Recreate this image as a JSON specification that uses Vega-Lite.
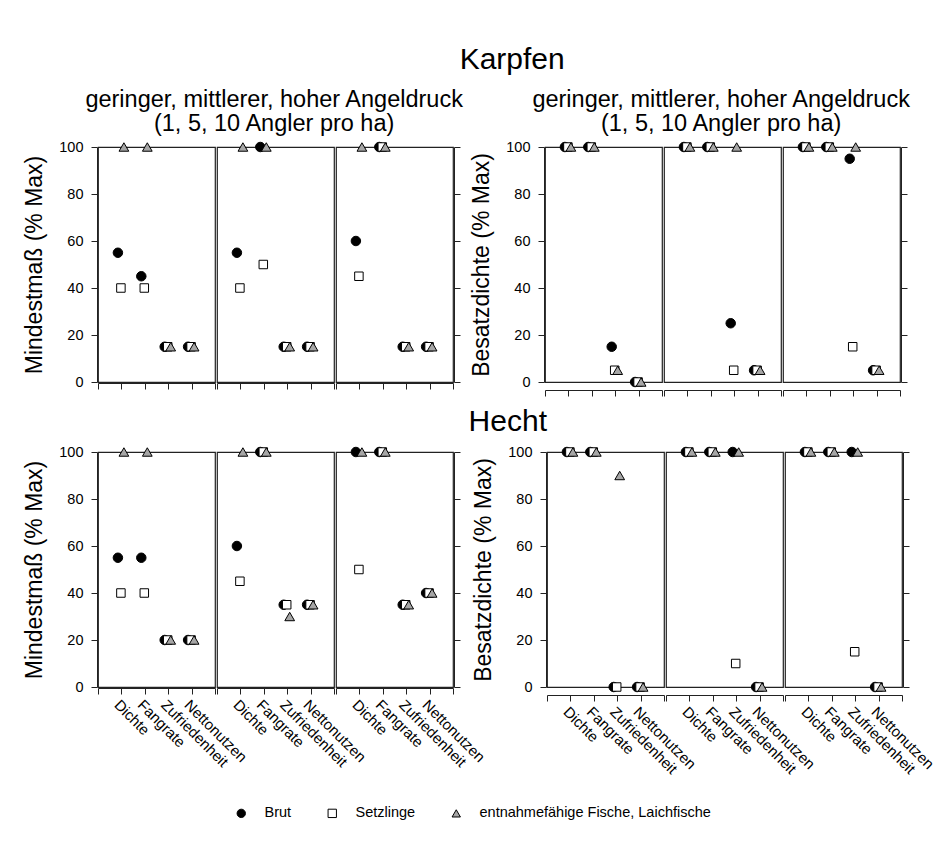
{
  "$schema": "https://vega.github.io/schema/vega-lite/v6.json",
  "background": "white",
  "padding": {"left": 23, "top": 44, "right": 5, "bottom": 5},
  "data": {"values": [
    {"fisch": "Karpfen", "groesse": "Mindestmaß", "druck": 1, "kriterium": "Dichte", "Brut": 55, "Setzlinge": 40, "entnahmefähige Fische, Laichfische": 100},
    {"fisch": "Karpfen", "groesse": "Mindestmaß", "druck": 1, "kriterium": "Fangrate", "Brut": 45, "Setzlinge": 40, "entnahmefähige Fische, Laichfische": 100},
    {"fisch": "Karpfen", "groesse": "Mindestmaß", "druck": 1, "kriterium": "Zufriedenheit", "Brut": 15, "Setzlinge": 15, "entnahmefähige Fische, Laichfische": 15},
    {"fisch": "Karpfen", "groesse": "Mindestmaß", "druck": 1, "kriterium": "Nettonutzen", "Brut": 15, "Setzlinge": 15, "entnahmefähige Fische, Laichfische": 15},
    {"fisch": "Karpfen", "groesse": "Mindestmaß", "druck": 5, "kriterium": "Dichte", "Brut": 55, "Setzlinge": 40, "entnahmefähige Fische, Laichfische": 100},
    {"fisch": "Karpfen", "groesse": "Mindestmaß", "druck": 5, "kriterium": "Fangrate", "Brut": 100, "Setzlinge": 50, "entnahmefähige Fische, Laichfische": 100},
    {"fisch": "Karpfen", "groesse": "Mindestmaß", "druck": 5, "kriterium": "Zufriedenheit", "Brut": 15, "Setzlinge": 15, "entnahmefähige Fische, Laichfische": 15},
    {"fisch": "Karpfen", "groesse": "Mindestmaß", "druck": 5, "kriterium": "Nettonutzen", "Brut": 15, "Setzlinge": 15, "entnahmefähige Fische, Laichfische": 15},
    {"fisch": "Karpfen", "groesse": "Mindestmaß", "druck": 10, "kriterium": "Dichte", "Brut": 60, "Setzlinge": 45, "entnahmefähige Fische, Laichfische": 100},
    {"fisch": "Karpfen", "groesse": "Mindestmaß", "druck": 10, "kriterium": "Fangrate", "Brut": 100, "Setzlinge": 100, "entnahmefähige Fische, Laichfische": 100},
    {"fisch": "Karpfen", "groesse": "Mindestmaß", "druck": 10, "kriterium": "Zufriedenheit", "Brut": 15, "Setzlinge": 15, "entnahmefähige Fische, Laichfische": 15},
    {"fisch": "Karpfen", "groesse": "Mindestmaß", "druck": 10, "kriterium": "Nettonutzen", "Brut": 15, "Setzlinge": 15, "entnahmefähige Fische, Laichfische": 15},
    {"fisch": "Karpfen", "groesse": "Besatzdichte", "druck": 1, "kriterium": "Dichte", "Brut": 100, "Setzlinge": 100, "entnahmefähige Fische, Laichfische": 100},
    {"fisch": "Karpfen", "groesse": "Besatzdichte", "druck": 1, "kriterium": "Fangrate", "Brut": 100, "Setzlinge": 100, "entnahmefähige Fische, Laichfische": 100},
    {"fisch": "Karpfen", "groesse": "Besatzdichte", "druck": 1, "kriterium": "Zufriedenheit", "Brut": 15, "Setzlinge": 5, "entnahmefähige Fische, Laichfische": 5},
    {"fisch": "Karpfen", "groesse": "Besatzdichte", "druck": 1, "kriterium": "Nettonutzen", "Brut": 0, "Setzlinge": 0, "entnahmefähige Fische, Laichfische": 0},
    {"fisch": "Karpfen", "groesse": "Besatzdichte", "druck": 5, "kriterium": "Dichte", "Brut": 100, "Setzlinge": 100, "entnahmefähige Fische, Laichfische": 100},
    {"fisch": "Karpfen", "groesse": "Besatzdichte", "druck": 5, "kriterium": "Fangrate", "Brut": 100, "Setzlinge": 100, "entnahmefähige Fische, Laichfische": 100},
    {"fisch": "Karpfen", "groesse": "Besatzdichte", "druck": 5, "kriterium": "Zufriedenheit", "Brut": 25, "Setzlinge": 5, "entnahmefähige Fische, Laichfische": 100},
    {"fisch": "Karpfen", "groesse": "Besatzdichte", "druck": 5, "kriterium": "Nettonutzen", "Brut": 5, "Setzlinge": 5, "entnahmefähige Fische, Laichfische": 5},
    {"fisch": "Karpfen", "groesse": "Besatzdichte", "druck": 10, "kriterium": "Dichte", "Brut": 100, "Setzlinge": 100, "entnahmefähige Fische, Laichfische": 100},
    {"fisch": "Karpfen", "groesse": "Besatzdichte", "druck": 10, "kriterium": "Fangrate", "Brut": 100, "Setzlinge": 100, "entnahmefähige Fische, Laichfische": 100},
    {"fisch": "Karpfen", "groesse": "Besatzdichte", "druck": 10, "kriterium": "Zufriedenheit", "Brut": 95, "Setzlinge": 15, "entnahmefähige Fische, Laichfische": 100},
    {"fisch": "Karpfen", "groesse": "Besatzdichte", "druck": 10, "kriterium": "Nettonutzen", "Brut": 5, "Setzlinge": 5, "entnahmefähige Fische, Laichfische": 5},
    {"fisch": "Hecht", "groesse": "Mindestmaß", "druck": 1, "kriterium": "Dichte", "Brut": 55, "Setzlinge": 40, "entnahmefähige Fische, Laichfische": 100},
    {"fisch": "Hecht", "groesse": "Mindestmaß", "druck": 1, "kriterium": "Fangrate", "Brut": 55, "Setzlinge": 40, "entnahmefähige Fische, Laichfische": 100},
    {"fisch": "Hecht", "groesse": "Mindestmaß", "druck": 1, "kriterium": "Zufriedenheit", "Brut": 20, "Setzlinge": 20, "entnahmefähige Fische, Laichfische": 20},
    {"fisch": "Hecht", "groesse": "Mindestmaß", "druck": 1, "kriterium": "Nettonutzen", "Brut": 20, "Setzlinge": 20, "entnahmefähige Fische, Laichfische": 20},
    {"fisch": "Hecht", "groesse": "Mindestmaß", "druck": 5, "kriterium": "Dichte", "Brut": 60, "Setzlinge": 45, "entnahmefähige Fische, Laichfische": 100},
    {"fisch": "Hecht", "groesse": "Mindestmaß", "druck": 5, "kriterium": "Fangrate", "Brut": 100, "Setzlinge": 100, "entnahmefähige Fische, Laichfische": 100},
    {"fisch": "Hecht", "groesse": "Mindestmaß", "druck": 5, "kriterium": "Zufriedenheit", "Brut": 35, "Setzlinge": 35, "entnahmefähige Fische, Laichfische": 30},
    {"fisch": "Hecht", "groesse": "Mindestmaß", "druck": 5, "kriterium": "Nettonutzen", "Brut": 35, "Setzlinge": 35, "entnahmefähige Fische, Laichfische": 35},
    {"fisch": "Hecht", "groesse": "Mindestmaß", "druck": 10, "kriterium": "Dichte", "Brut": 100, "Setzlinge": 50, "entnahmefähige Fische, Laichfische": 100},
    {"fisch": "Hecht", "groesse": "Mindestmaß", "druck": 10, "kriterium": "Fangrate", "Brut": 100, "Setzlinge": 100, "entnahmefähige Fische, Laichfische": 100},
    {"fisch": "Hecht", "groesse": "Mindestmaß", "druck": 10, "kriterium": "Zufriedenheit", "Brut": 35, "Setzlinge": 35, "entnahmefähige Fische, Laichfische": 35},
    {"fisch": "Hecht", "groesse": "Mindestmaß", "druck": 10, "kriterium": "Nettonutzen", "Brut": 40, "Setzlinge": 40, "entnahmefähige Fische, Laichfische": 40},
    {"fisch": "Hecht", "groesse": "Besatzdichte", "druck": 1, "kriterium": "Dichte", "Brut": 100, "Setzlinge": 100, "entnahmefähige Fische, Laichfische": 100},
    {"fisch": "Hecht", "groesse": "Besatzdichte", "druck": 1, "kriterium": "Fangrate", "Brut": 100, "Setzlinge": 100, "entnahmefähige Fische, Laichfische": 100},
    {"fisch": "Hecht", "groesse": "Besatzdichte", "druck": 1, "kriterium": "Zufriedenheit", "Brut": 0, "Setzlinge": 0, "entnahmefähige Fische, Laichfische": 90},
    {"fisch": "Hecht", "groesse": "Besatzdichte", "druck": 1, "kriterium": "Nettonutzen", "Brut": 0, "Setzlinge": 0, "entnahmefähige Fische, Laichfische": 0},
    {"fisch": "Hecht", "groesse": "Besatzdichte", "druck": 5, "kriterium": "Dichte", "Brut": 100, "Setzlinge": 100, "entnahmefähige Fische, Laichfische": 100},
    {"fisch": "Hecht", "groesse": "Besatzdichte", "druck": 5, "kriterium": "Fangrate", "Brut": 100, "Setzlinge": 100, "entnahmefähige Fische, Laichfische": 100},
    {"fisch": "Hecht", "groesse": "Besatzdichte", "druck": 5, "kriterium": "Zufriedenheit", "Brut": 100, "Setzlinge": 10, "entnahmefähige Fische, Laichfische": 100},
    {"fisch": "Hecht", "groesse": "Besatzdichte", "druck": 5, "kriterium": "Nettonutzen", "Brut": 0, "Setzlinge": 0, "entnahmefähige Fische, Laichfische": 0},
    {"fisch": "Hecht", "groesse": "Besatzdichte", "druck": 10, "kriterium": "Dichte", "Brut": 100, "Setzlinge": 100, "entnahmefähige Fische, Laichfische": 100},
    {"fisch": "Hecht", "groesse": "Besatzdichte", "druck": 10, "kriterium": "Fangrate", "Brut": 100, "Setzlinge": 100, "entnahmefähige Fische, Laichfische": 100},
    {"fisch": "Hecht", "groesse": "Besatzdichte", "druck": 10, "kriterium": "Zufriedenheit", "Brut": 100, "Setzlinge": 15, "entnahmefähige Fische, Laichfische": 100},
    {"fisch": "Hecht", "groesse": "Besatzdichte", "druck": 10, "kriterium": "Nettonutzen", "Brut": 0, "Setzlinge": 0, "entnahmefähige Fische, Laichfische": 0}
  ]},
  "transform": [
    {"fold": ["Brut", "Setzlinge", "entnahmefähige Fische, Laichfische"], "as": ["gruppe", "wert"]}
  ],
  "spacing": 10,
  "vconcat": [
    {
      "title": {"text": "Karpfen", "fontSize": 30, "offset": 13, "dx": 45},
      "spacing": 6,
      "hconcat": [
        {
          "transform": [{"filter": "datum.fisch == 'Karpfen' && datum.groesse == 'Mindestmaß'"}],
          "title": {"text": ["geringer, mittlerer, hoher Angeldruck", "(1, 5, 10 Angler pro ha)"], "fontSize": 23.5, "lineHeight": 24, "offset": 4, "dx": 32},
          "facet": {"column": {"field": "druck", "type": "ordinal", "sort": [1, 5, 10], "header": {"labels": false, "title": null}}},
          "spacing": 0,
          "spec": {
            "width": 117, "height": 235,
            "encoding": {
              "x": {"field": "kriterium", "type": "nominal", "scale": {"type": "point", "domain": ["_L", "Dichte", "Fangrate", "Zufriedenheit", "Nettonutzen", "_R"], "padding": 0}, "axis": {"title": null, "labels": false, "ticks": true}},
              "shape": {"field": "gruppe", "type": "nominal", "scale": {"domain": ["Brut", "Setzlinge", "entnahmefähige Fische, Laichfische"], "range": ["circle", "square", "triangle-up"]}, "legend": {"title": null}},
              "fill": {"field": "gruppe", "type": "nominal", "scale": {"domain": ["Brut", "Setzlinge", "entnahmefähige Fische, Laichfische"], "range": ["#000000", "#ffffff", "#a6a6a6"]}, "legend": {"title": null}},
              "stroke": {"field": "gruppe", "type": "nominal", "scale": {"domain": ["Brut", "Setzlinge", "entnahmefähige Fische, Laichfische"], "range": ["#000000", "#000000", "#000000"]}, "legend": {"title": null}}
            },
            "layer": [
              {"transform": [{"filter": "datum.gruppe == 'Brut'"}], "mark": {"type": "point", "filled": true, "strokeWidth": 1, "opacity": 1, "size": 90, "xOffset": -3.5},
               "encoding": {"y": {"field": "wert", "type": "quantitative", "scale": {"domain": [0, 100], "nice": false}, "axis": {"orient": "left", "values": [0, 20, 40, 60, 80, 100], "title": "Mindestmaß (% Max)"}}}},
              {"transform": [{"filter": "datum.gruppe == 'Setzlinge'"}], "mark": {"type": "point", "filled": true, "strokeWidth": 1, "opacity": 1, "size": 72, "xOffset": -0.5},
               "encoding": {"y": {"field": "wert", "type": "quantitative", "scale": {"domain": [0, 100], "nice": false}, "axis": null}}},
              {"transform": [{"filter": "datum.gruppe == 'entnahmefähige Fische, Laichfische'"}], "mark": {"type": "point", "filled": true, "strokeWidth": 1, "opacity": 1, "size": 95, "xOffset": 2.5},
               "encoding": {"y": {"field": "wert", "type": "quantitative", "scale": {"domain": [0, 100], "nice": false}, "axis": {"orient": "right", "values": [0, 20, 40, 60, 80, 100], "labels": false, "title": null}}}}
            ],
            "resolve": {"axis": {"y": "independent"}}
          }
        },
        {
          "transform": [{"filter": "datum.fisch == 'Karpfen' && datum.groesse == 'Besatzdichte'"}],
          "title": {"text": ["geringer, mittlerer, hoher Angeldruck", "(1, 5, 10 Angler pro ha)"], "fontSize": 23.5, "lineHeight": 24, "offset": 4, "dx": 32},
          "facet": {"column": {"field": "druck", "type": "ordinal", "sort": [1, 5, 10], "header": {"labels": false, "title": null}}},
          "spacing": 0,
          "spec": {
            "width": 117, "height": 235,
            "encoding": {
              "x": {"field": "kriterium", "type": "nominal", "scale": {"type": "point", "domain": ["_L", "Dichte", "Fangrate", "Zufriedenheit", "Nettonutzen", "_R"], "padding": 0}, "axis": {"title": null, "labels": false, "ticks": true}},
              "shape": {"field": "gruppe", "type": "nominal", "scale": {"domain": ["Brut", "Setzlinge", "entnahmefähige Fische, Laichfische"], "range": ["circle", "square", "triangle-up"]}, "legend": {"title": null}},
              "fill": {"field": "gruppe", "type": "nominal", "scale": {"domain": ["Brut", "Setzlinge", "entnahmefähige Fische, Laichfische"], "range": ["#000000", "#ffffff", "#a6a6a6"]}, "legend": {"title": null}},
              "stroke": {"field": "gruppe", "type": "nominal", "scale": {"domain": ["Brut", "Setzlinge", "entnahmefähige Fische, Laichfische"], "range": ["#000000", "#000000", "#000000"]}, "legend": {"title": null}}
            },
            "layer": [
              {"transform": [{"filter": "datum.gruppe == 'Brut'"}], "mark": {"type": "point", "filled": true, "strokeWidth": 1, "opacity": 1, "size": 90, "xOffset": -3.5},
               "encoding": {"y": {"field": "wert", "type": "quantitative", "scale": {"domain": [0, 100], "nice": false}, "axis": {"orient": "left", "values": [0, 20, 40, 60, 80, 100], "title": "Besatzdichte (% Max)"}}}},
              {"transform": [{"filter": "datum.gruppe == 'Setzlinge'"}], "mark": {"type": "point", "filled": true, "strokeWidth": 1, "opacity": 1, "size": 72, "xOffset": -0.5},
               "encoding": {"y": {"field": "wert", "type": "quantitative", "scale": {"domain": [0, 100], "nice": false}, "axis": null}}},
              {"transform": [{"filter": "datum.gruppe == 'entnahmefähige Fische, Laichfische'"}], "mark": {"type": "point", "filled": true, "strokeWidth": 1, "opacity": 1, "size": 95, "xOffset": 2.5},
               "encoding": {"y": {"field": "wert", "type": "quantitative", "scale": {"domain": [0, 100], "nice": false}, "axis": {"orient": "right", "values": [0, 20, 40, 60, 80, 100], "labels": false, "title": null}}}}
            ],
            "resolve": {"axis": {"y": "independent"}}
          }
        }
      ]
    },
    {
      "title": {"text": "Hecht", "fontSize": 30, "offset": 7, "dx": 28},
      "spacing": -15,
      "hconcat": [
        {
          "transform": [{"filter": "datum.fisch == 'Hecht' && datum.groesse == 'Mindestmaß'"}],
          "facet": {"column": {"field": "druck", "type": "ordinal", "sort": [1, 5, 10], "header": {"labels": false, "title": null}}},
          "spacing": 0,
          "spec": {
            "width": 117, "height": 235,
            "encoding": {
              "x": {"field": "kriterium", "type": "nominal", "scale": {"type": "point", "domain": ["_L", "Dichte", "Fangrate", "Zufriedenheit", "Nettonutzen", "_R"], "padding": 0}, "axis": {"title": null, "labelAngle": 45, "labelAlign": "left", "labelBaseline": "top", "labelPadding": 3, "labelFontSize": 15, "labelExpr": "datum.value == '_L' || datum.value == '_R' ? '' : datum.value"}},
              "shape": {"field": "gruppe", "type": "nominal", "scale": {"domain": ["Brut", "Setzlinge", "entnahmefähige Fische, Laichfische"], "range": ["circle", "square", "triangle-up"]}, "legend": {"title": null}},
              "fill": {"field": "gruppe", "type": "nominal", "scale": {"domain": ["Brut", "Setzlinge", "entnahmefähige Fische, Laichfische"], "range": ["#000000", "#ffffff", "#a6a6a6"]}, "legend": {"title": null}},
              "stroke": {"field": "gruppe", "type": "nominal", "scale": {"domain": ["Brut", "Setzlinge", "entnahmefähige Fische, Laichfische"], "range": ["#000000", "#000000", "#000000"]}, "legend": {"title": null}}
            },
            "layer": [
              {"transform": [{"filter": "datum.gruppe == 'Brut'"}], "mark": {"type": "point", "filled": true, "strokeWidth": 1, "opacity": 1, "size": 90, "xOffset": -3.5},
               "encoding": {"y": {"field": "wert", "type": "quantitative", "scale": {"domain": [0, 100], "nice": false}, "axis": {"orient": "left", "values": [0, 20, 40, 60, 80, 100], "title": "Mindestmaß (% Max)"}}}},
              {"transform": [{"filter": "datum.gruppe == 'Setzlinge'"}], "mark": {"type": "point", "filled": true, "strokeWidth": 1, "opacity": 1, "size": 72, "xOffset": -0.5},
               "encoding": {"y": {"field": "wert", "type": "quantitative", "scale": {"domain": [0, 100], "nice": false}, "axis": null}}},
              {"transform": [{"filter": "datum.gruppe == 'entnahmefähige Fische, Laichfische'"}], "mark": {"type": "point", "filled": true, "strokeWidth": 1, "opacity": 1, "size": 95, "xOffset": 2.5},
               "encoding": {"y": {"field": "wert", "type": "quantitative", "scale": {"domain": [0, 100], "nice": false}, "axis": {"orient": "right", "values": [0, 20, 40, 60, 80, 100], "labels": false, "title": null}}}}
            ],
            "resolve": {"axis": {"y": "independent"}}
          }
        },
        {
          "transform": [{"filter": "datum.fisch == 'Hecht' && datum.groesse == 'Besatzdichte'"}],
          "facet": {"column": {"field": "druck", "type": "ordinal", "sort": [1, 5, 10], "header": {"labels": false, "title": null}}},
          "spacing": 0,
          "spec": {
            "width": 117, "height": 235,
            "encoding": {
              "x": {"field": "kriterium", "type": "nominal", "scale": {"type": "point", "domain": ["_L", "Dichte", "Fangrate", "Zufriedenheit", "Nettonutzen", "_R"], "padding": 0}, "axis": {"title": null, "labelAngle": 45, "labelAlign": "left", "labelBaseline": "top", "labelPadding": 3, "labelFontSize": 15, "labelExpr": "datum.value == '_L' || datum.value == '_R' ? '' : datum.value"}},
              "shape": {"field": "gruppe", "type": "nominal", "scale": {"domain": ["Brut", "Setzlinge", "entnahmefähige Fische, Laichfische"], "range": ["circle", "square", "triangle-up"]}, "legend": {"title": null}},
              "fill": {"field": "gruppe", "type": "nominal", "scale": {"domain": ["Brut", "Setzlinge", "entnahmefähige Fische, Laichfische"], "range": ["#000000", "#ffffff", "#a6a6a6"]}, "legend": {"title": null}},
              "stroke": {"field": "gruppe", "type": "nominal", "scale": {"domain": ["Brut", "Setzlinge", "entnahmefähige Fische, Laichfische"], "range": ["#000000", "#000000", "#000000"]}, "legend": {"title": null}}
            },
            "layer": [
              {"transform": [{"filter": "datum.gruppe == 'Brut'"}], "mark": {"type": "point", "filled": true, "strokeWidth": 1, "opacity": 1, "size": 90, "xOffset": -3.5},
               "encoding": {"y": {"field": "wert", "type": "quantitative", "scale": {"domain": [0, 100], "nice": false}, "axis": {"orient": "left", "values": [0, 20, 40, 60, 80, 100], "title": "Besatzdichte (% Max)"}}}},
              {"transform": [{"filter": "datum.gruppe == 'Setzlinge'"}], "mark": {"type": "point", "filled": true, "strokeWidth": 1, "opacity": 1, "size": 72, "xOffset": -0.5},
               "encoding": {"y": {"field": "wert", "type": "quantitative", "scale": {"domain": [0, 100], "nice": false}, "axis": null}}},
              {"transform": [{"filter": "datum.gruppe == 'entnahmefähige Fische, Laichfische'"}], "mark": {"type": "point", "filled": true, "strokeWidth": 1, "opacity": 1, "size": 95, "xOffset": 2.5},
               "encoding": {"y": {"field": "wert", "type": "quantitative", "scale": {"domain": [0, 100], "nice": false}, "axis": {"orient": "right", "values": [0, 20, 40, 60, 80, 100], "labels": false, "title": null}}}}
            ],
            "resolve": {"axis": {"y": "independent"}}
          }
        }
      ]
    }
  ],
  "config": {
    "font": "Liberation Sans",
    "view": {"stroke": "#222222", "strokeWidth": 1.2},
    "axis": {"grid": false, "labelFontSize": 14.5, "labelColor": "#000", "tickColor": "#222", "domainColor": "#222", "tickSize": 6, "titleFontSize": 23, "titleFontWeight": "normal", "titleColor": "#000", "labelPadding": 8, "titlePadding": 12},
    "title": {"fontWeight": "normal", "color": "#000", "anchor": "middle"},
    "legend": {"orient": "none", "legendX": 136, "legendY": 659, "direction": "horizontal", "labelFontSize": 14.5, "labelColor": "#000", "labelLimit": 0, "symbolSize": 70, "symbolStrokeWidth": 1, "labelOffset": 16, "columnPadding": 33}
  }
}
